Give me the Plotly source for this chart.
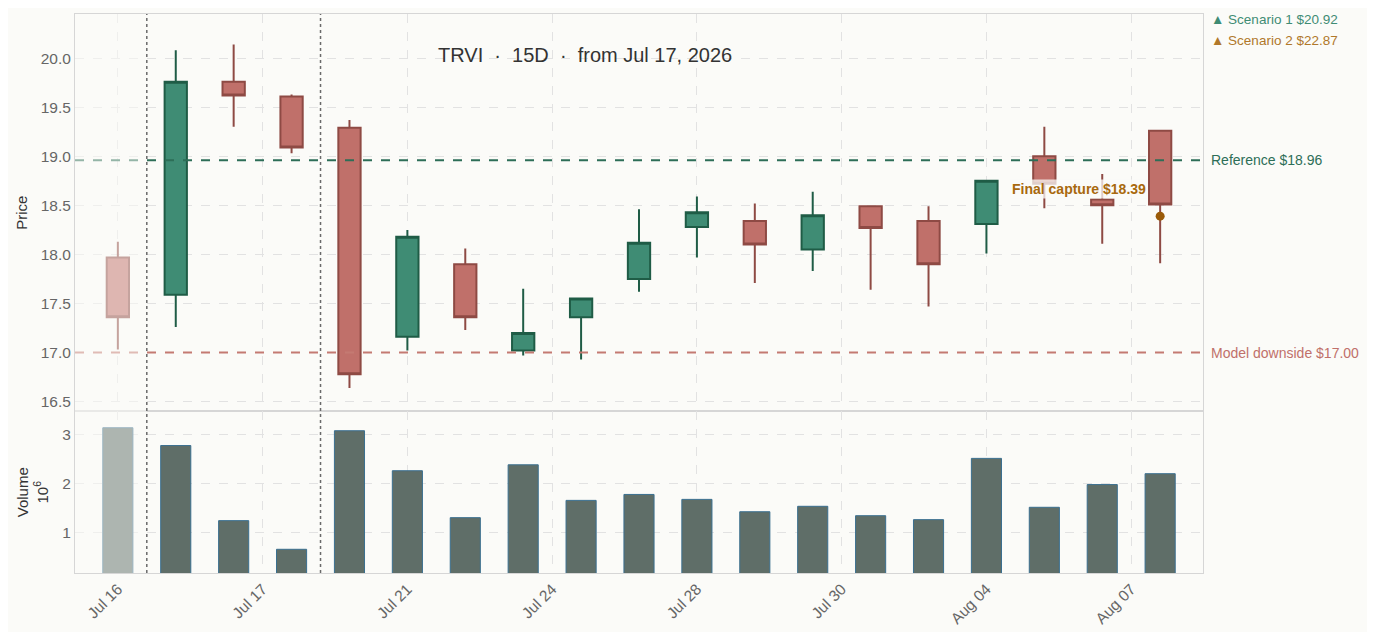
import plotly.graph_objects as go
from plotly.subplots import make_subplots

# OHLC + volume (one candle per session)
idx = list(range(19))
opens = [17.97, 17.59, 19.76, 19.61, 19.29, 17.16, 17.90, 17.02, 17.36, 17.75,
         18.28, 18.34, 18.05, 18.49, 18.34, 18.31, 19.00, 18.56, 19.26]
highs = [18.13, 20.08, 20.14, 19.63, 19.37, 18.25, 18.06, 17.65, 17.55, 18.46,
         18.59, 18.52, 18.64, 18.49, 18.49, 18.76, 19.30, 18.82, 19.26]
lows = [17.03, 17.26, 19.30, 19.03, 16.64, 17.02, 17.23, 16.97, 16.93, 17.62,
        17.97, 17.71, 17.83, 17.64, 17.47, 18.01, 18.47, 18.11, 17.91]
closes = [17.36, 19.76, 19.62, 19.09, 16.78, 18.18, 17.36, 17.20, 17.55, 18.12,
          18.43, 18.10, 18.40, 18.27, 17.90, 18.75, 18.72, 18.50, 18.51]
volume_m = [3.13, 2.77, 1.25, 0.67, 3.07, 2.26, 1.31, 2.38, 1.66, 1.78,
            1.68, 1.43, 1.54, 1.35, 1.27, 2.51, 1.52, 1.98, 2.20]

tick_pos = [0, 2.5, 5, 7.5, 10, 12.5, 15, 17.5]
tick_labels = ["Jul 16", "Jul 17", "Jul 21", "Jul 24", "Jul 28", "Jul 30", "Aug 04", "Aug 07"]

reference = 18.96
downside = 17.00
final_capture = 18.39
scenario1 = 20.92
scenario2 = 22.87

BG = "#fbfbf8"
GREEN = "#3f8c74"
RED = "#c0706a"

fig = make_subplots(rows=2, cols=1, shared_xaxes=True, vertical_spacing=0,
                    row_heights=[0.711, 0.289])

fig.add_trace(go.Candlestick(
    x=idx, open=opens, high=highs, low=lows, close=closes,
    increasing=dict(fillcolor=GREEN, line=dict(color="#1f5c46", width=2)),
    decreasing=dict(fillcolor=RED, line=dict(color="#8e4a44", width=2)),
    showlegend=False), row=1, col=1)

fig.add_trace(go.Scatter(
    x=[idx[-1]], y=[final_capture], mode="markers",
    marker=dict(color="#9a5a08", size=9), showlegend=False), row=1, col=1)

fig.add_trace(go.Bar(
    x=idx, y=volume_m, width=0.52,
    marker=dict(color="#5f6e68", line=dict(color="#3a6f8f", width=1)),
    showlegend=False), row=2, col=1)

# reference levels
fig.add_shape(type="line", xref="x domain", yref="y", x0=0, x1=1, y0=reference, y1=reference,
              line=dict(color="#2d6e57", width=2, dash="dash"))
fig.add_shape(type="line", xref="x domain", yref="y", x0=0, x1=1, y0=downside, y1=downside,
              line=dict(color="#c47a72", width=2, dash="dash"))

# fade the pre-window session
fig.add_shape(type="rect", xref="x", yref="paper", x0=-0.74, x1=0.5, y0=0, y1=1,
              fillcolor=BG, opacity=0.5, line_width=0, layer="above")

# window markers
for xv in [0.5, 3.5]:
    fig.add_shape(type="line", xref="x", yref="paper", x0=xv, x1=xv, y0=0, y1=1,
                  line=dict(color="#6a6a6a", width=1.5, dash="dot"))

fig.add_annotation(xref="x domain", yref="y", x=1, y=reference, xanchor="left", xshift=6,
                   text=f"Reference ${reference:.2f}", showarrow=False,
                   font=dict(color="#2d6e57", size=14))
fig.add_annotation(xref="x domain", yref="y", x=1, y=downside, xanchor="left", xshift=6,
                   text=f"Model downside ${downside:.2f}", showarrow=False,
                   font=dict(color="#c0706a", size=14))
fig.add_annotation(xref="x", yref="y", x=idx[-1], y=final_capture, xanchor="right",
                   xshift=-12, yshift=27, text=f"<b>Final capture ${final_capture:.2f}</b>",
                   showarrow=False, bgcolor="rgba(251,251,248,0.75)",
                   font=dict(color="#a8690e", size=14))

fig.add_annotation(xref="paper", yref="paper", x=1.0055, y=0.991, xanchor="left",
                   yanchor="middle", text=f"▲ Scenario 1 ${scenario1:.2f}", showarrow=False,
                   font=dict(color=GREEN, size=13.5))
fig.add_annotation(xref="paper", yref="paper", x=1.0055, y=0.952, xanchor="left",
                   yanchor="middle", text=f"▲ Scenario 2 ${scenario2:.2f}", showarrow=False,
                   font=dict(color="#b0782a", size=13.5))

fig.add_annotation(xref="paper", yref="paper", x=0.4525, y=0.927, yanchor="middle",
                   text="TRVI  ·  15D  ·  from Jul 17, 2026", showarrow=False,
                   font=dict(color="#333333", size=20))

axis_style = dict(showline=True, linecolor="#d6d6d6", linewidth=1, mirror=True,
                  gridcolor="#e2e2e2", griddash="dash", zeroline=False,
                  tickfont=dict(color="#666666", size=15.5))

fig.update_xaxes(**axis_style, range=[-0.74, 18.74], tickvals=tick_pos, ticktext=tick_labels,
                 rangeslider_visible=False)
fig.update_xaxes(tickangle=-45, row=2, col=1)
fig.update_yaxes(**axis_style)
fig.update_yaxes(range=[16.40, 20.45], dtick=0.5, tickformat=".1f",
                 title=dict(text="Price", font=dict(size=15, color="#333333"), standoff=9),
                 row=1, col=1)
fig.update_yaxes(range=[0.19, 3.46], tickvals=[1, 2, 3],
                 title=dict(text="Volume<br>10<sup>6</sup>", font=dict(size=15, color="#333333"),
                            standoff=10),
                 row=2, col=1)

fig.update_layout(
    width=1359, height=624,
    margin=dict(l=67, r=164, t=5, b=58),
    paper_bgcolor=BG, plot_bgcolor=BG,
    font=dict(family="Liberation Sans, Arial, sans-serif"),
    showlegend=False,
    boxgap=0.45,
    xaxis_rangeslider_visible=False,
)

fig.write_html("out.html")
